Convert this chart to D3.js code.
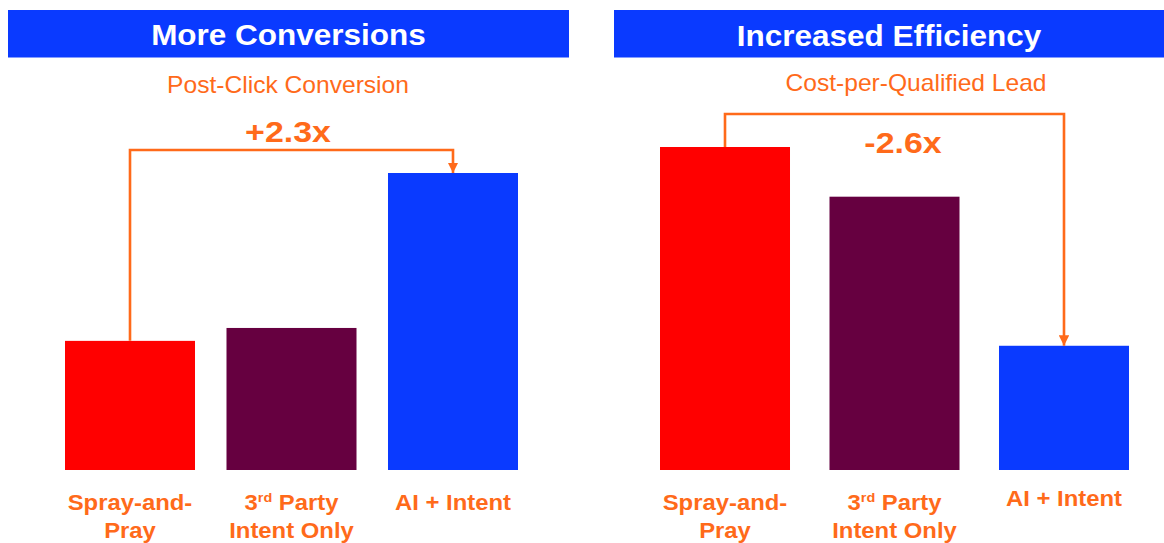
<!DOCTYPE html>
<html>
<head>
<meta charset="utf-8">
<script src="https://cdn.jsdelivr.net/npm/d3@7"></script>
<style>
  html, body { margin: 0; padding: 0; background: #ffffff; }
  svg { display: block; font-family: "Liberation Sans", Arial, sans-serif; }
</style>
</head>
<body>
<svg id="chart" width="1164" height="543"></svg>
<script>
// Categories shared by both panels
const categories = ["Spray-and-Pray", "3rd Party Intent Only", "AI + Intent"];
// Relative post-click conversion (Spray-and-Pray = 1)
const conversionValues = [1.0, 1.1, 2.3];
// Relative cost per qualified lead (AI + Intent = 1)
const costValues = [2.6, 2.2, 1.0];
const barColors = ["#ff0000", "#660040", "#0a3aff"];
const panelTitles = ["More Conversions", "Increased Efficiency"];
const panelSubtitles = ["Post-Click Conversion", "Cost-per-Qualified Lead"];
const ratioLabels = ["+2.3x", "-2.6x"];

const ORANGE = "#ff6a1a";
const BANNER = "#0a3aff";
const svg = d3.select("#chart");

// Arrowhead marker
svg.append("defs").append("marker")
  .attr("id", "arrowHead")
  .attr("viewBox", "0 0 10 10")
  .attr("refX", 10).attr("refY", 5)
  .attr("markerWidth", 4).attr("markerHeight", 4)
  .attr("markerUnits", "strokeWidth")
  .attr("orient", "auto")
  .append("path")
  .attr("d", "M0,0 L10,5 L0,10 Z")
  .attr("fill", ORANGE);

// Text helper: centred text, stretched horizontally by sx
function stretchedText(g, x, y, sx, size, weight, color) {
  return g.append("text")
    .attr("transform", `translate(${x},${y}) scale(${sx},1)`)
    .attr("text-anchor", "middle")
    .attr("font-size", size)
    .attr("font-weight", weight)
    .attr("fill", color);
}

const panels = [
  {
    values: conversionValues, title: panelTitles[0], subtitle: panelSubtitles[0], ratio: ratioLabels[0],
    banner: [8, 569], titleY: 45, subtitleX: 288, subtitleY: 93,
    xRange: [65, 518], padInner: 0.195, baseline: 470, topPx: 173,
    from: 0, to: 2, bridgeY: 150, ratioX: 288, ratioY: 142, aiLabelY: 510
  },
  {
    values: costValues, title: panelTitles[1], subtitle: panelSubtitles[1], ratio: ratioLabels[1],
    banner: [614, 1164], titleY: 46, subtitleX: 916, subtitleY: 91,
    xRange: [660, 1129], padInner: 0.233, baseline: 470, topPx: 147,
    from: 0, to: 2, bridgeY: 114, ratioX: 903, ratioY: 153, aiLabelY: 506
  }
];

panels.forEach(p => {
  const g = svg.append("g");
  const maxV = d3.max(p.values);

  const x = d3.scaleBand().domain(categories).range(p.xRange).paddingInner(p.padInner).paddingOuter(0);
  const y = d3.scaleLinear().domain([0, maxV]).range([p.baseline, p.topPx]);

  // Header banner
  g.append("rect")
    .attr("x", p.banner[0]).attr("y", 10)
    .attr("width", p.banner[1] - p.banner[0]).attr("height", 47.5)
    .attr("fill", BANNER);
  stretchedText(g, (p.banner[0] + p.banner[1]) / 2, p.titleY, 1.05, 30, "bold", "#ffffff").text(p.title);

  // Metric subtitle
  stretchedText(g, p.subtitleX, p.subtitleY, 1.07, 23, "normal", ORANGE).text(p.subtitle);

  // Bars
  g.selectAll("rect.bar")
    .data(p.values)
    .join("rect")
    .attr("class", "bar")
    .attr("x", (d, i) => x(categories[i]))
    .attr("width", x.bandwidth())
    .attr("y", d => y(d))
    .attr("height", d => y(0) - y(d))
    .attr("fill", (d, i) => barColors[i]);

  // Comparison bracket between first and last bar
  const x0 = x(categories[p.from]) + x.bandwidth() / 2;
  const x1 = x(categories[p.to]) + x.bandwidth() / 2;
  const y0 = y(p.values[p.from]);
  const y1 = y(p.values[p.to]);
  g.append("path")
    .attr("d", `M${x0},${y0} L${x0},${p.bridgeY} L${x1},${p.bridgeY} L${x1},${y1}`)
    .attr("fill", "none")
    .attr("stroke", ORANGE)
    .attr("stroke-width", 2.6)
    .attr("marker-end", "url(#arrowHead)");

  stretchedText(g, p.ratioX, p.ratioY, 1.17, 29, "bold", ORANGE).text(p.ratio);

  // Category labels
  const cx = i => x(categories[i]) + x.bandwidth() / 2;
  const lab1 = stretchedText(g, cx(0), 510, 1.11, 21.5, "bold", ORANGE);
  lab1.text("Spray-and-");
  stretchedText(g, cx(0), 538, 1.11, 21.5, "bold", ORANGE).text("Pray");

  const lab2 = stretchedText(g, cx(1), 510, 1.11, 21.5, "bold", ORANGE);
  lab2.append("tspan").text("3");
  lab2.append("tspan").attr("font-size", 13).attr("dy", -8).text("rd");
  lab2.append("tspan").attr("dy", 8).text(" Party");
  stretchedText(g, cx(1), 538, 1.11, 21.5, "bold", ORANGE).text("Intent Only");

  stretchedText(g, cx(2), p.aiLabelY, 1.11, 21.5, "bold", ORANGE).text("AI + Intent");
});
</script>
</body>
</html>
